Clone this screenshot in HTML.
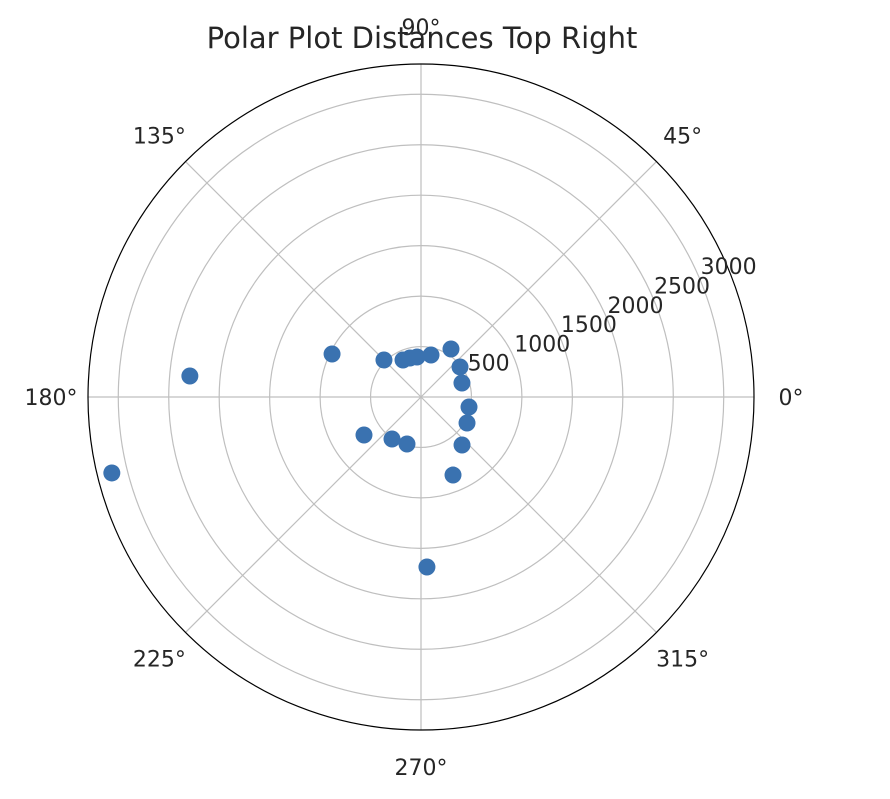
<!DOCTYPE html>
<html><head><meta charset="utf-8"><style>
body{margin:0;background:#fff}
svg text{font-family:"DejaVu Sans","Liberation Sans",sans-serif;fill:#262626}
</style></head><body>
<svg id="chart" width="890" height="794" xmlns="http://www.w3.org/2000/svg">
<text x="422" y="48" font-size="29" text-anchor="middle">Polar Plot Distances Top Right</text>
<g id="grid"></g><g id="pts"></g><g id="labels"></g>
</svg>
<script>
const angles=[154.2,174.8,193.8,135,115.9,105.8,95.7,76.6,58,37.6,18.9,348.2,330.5,310.5,292.3,272,253.4,235.4,213.7];
const distances=[979,2300,3155,519,408,402,398,428,561,488,429,486,524,626,836,1686,486,506,679];
const rTicks=[500,1000,1500,2000,2500,3000];
const thetaTicks=[0,45,90,135,180,225,270,315];
const cx=421,cy=397,R=333,rMax=3300;
const NS='http://www.w3.org/2000/svg';
function rs(v){return v/rMax*R;}
function px(a,v){return cx+rs(v)*Math.cos(a*Math.PI/180);}
function py(a,v){return cy-rs(v)*Math.sin(a*Math.PI/180);}
function mk(t,at,p){const e=document.createElementNS(NS,t);for(const k in at)e.setAttribute(k,at[k]);p.appendChild(e);return e;}
const g=document.getElementById('grid'),pg=document.getElementById('pts'),lg=document.getElementById('labels');
rTicks.forEach(v=>{const c=mk('circle',{cx:cx,cy:cy,r:rs(v),fill:'none',stroke:'#bfbfbf','stroke-width':1.2},g);

});
thetaTicks.forEach(a=>{const l=mk('line',{x1:cx,y1:cy,x2:px(a,rMax),y2:py(a,rMax),stroke:'#bfbfbf','stroke-width':1.2},g);


const t=mk('text',{x:cx+(R+37)*Math.cos(a*Math.PI/180),y:cy-(R+37)*Math.sin(a*Math.PI/180)+8,'font-size':22,'text-anchor':'middle'},lg);
t.textContent=a+'°';

});
const o=mk('circle',{cx:cx,cy:cy,r:R,fill:'none',stroke:'#000','stroke-width':1.2},g);


rTicks.forEach(v=>{const t=mk('text',{x:px(22.5,v),y:py(22.5,v)-7,'font-size':22,'text-anchor':'start'},lg);
t.textContent=v;

});
angles.forEach((a,i)=>{const c=mk('circle',{cx:px(a,distances[i]),cy:py(a,distances[i]),r:8.5,fill:'#3a72b0'},pg);

});
</script>
</body></html>
